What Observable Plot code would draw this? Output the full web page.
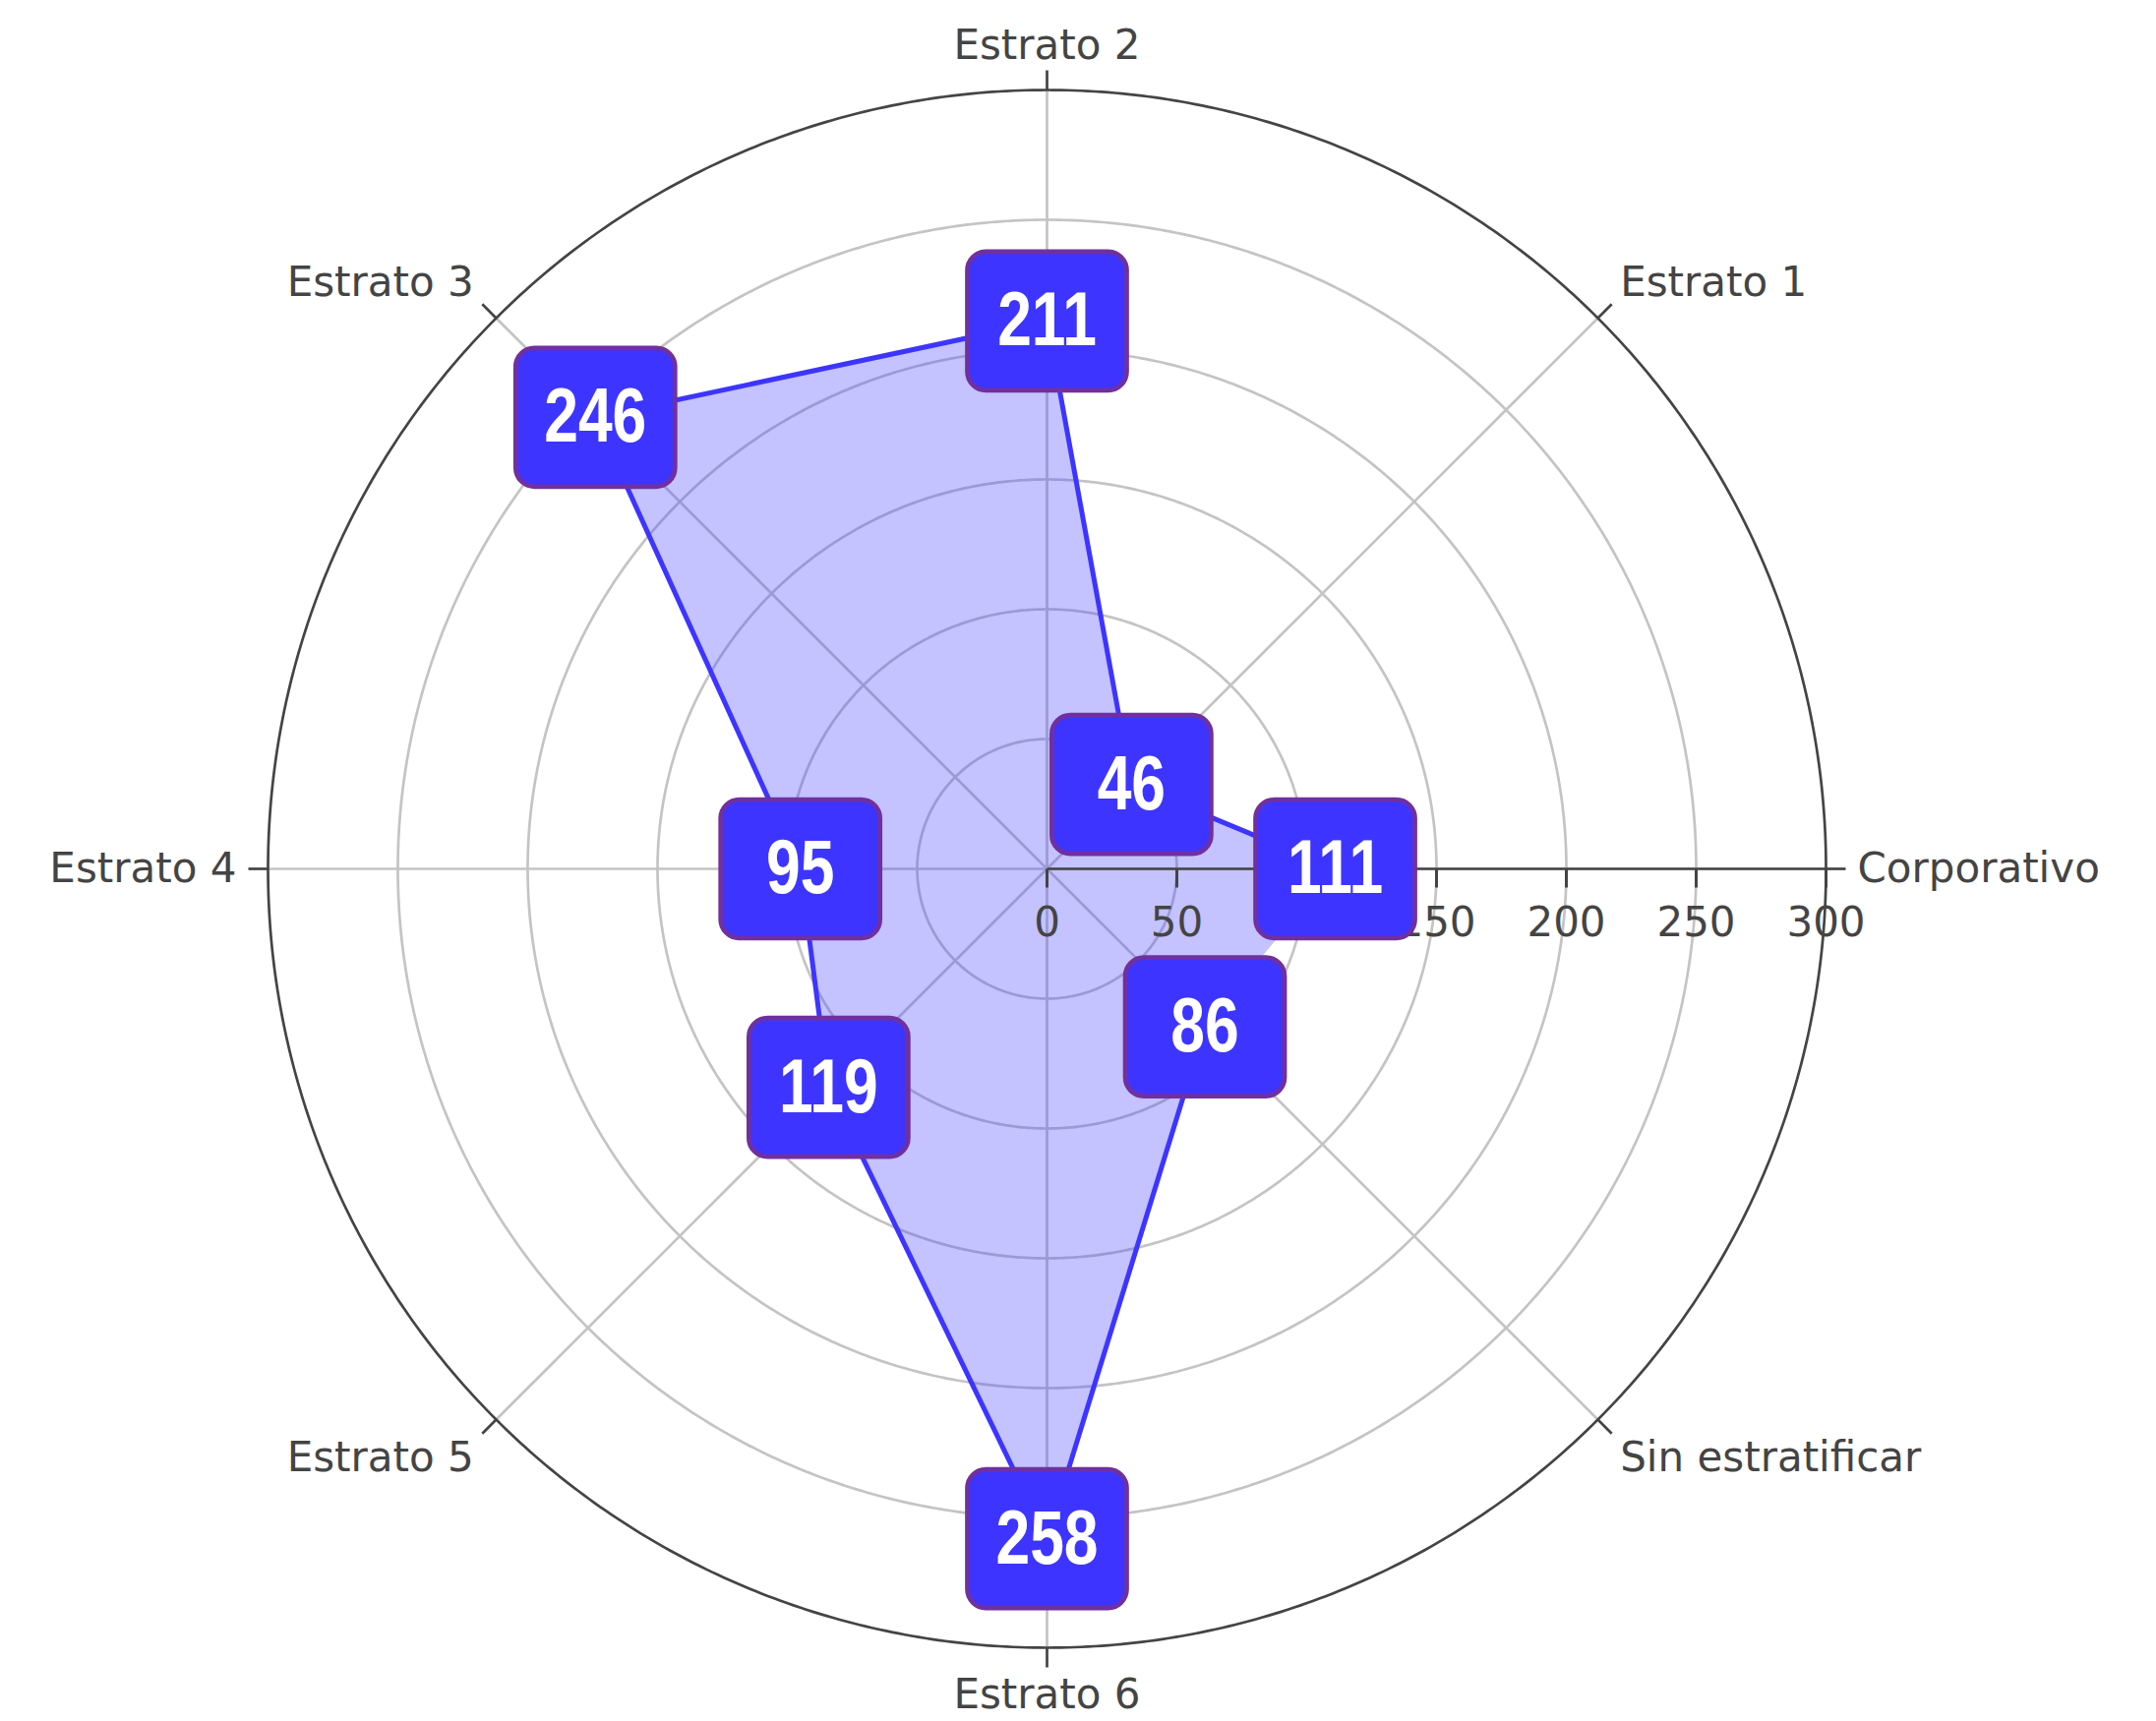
<!DOCTYPE html>
<html>
<head>
<meta charset="utf-8">
<script src="https://cdn.jsdelivr.net/npm/d3@7"></script>
<script src="https://cdn.jsdelivr.net/npm/@observablehq/plot@0.6"></script>
<style>
  html, body { margin: 0; padding: 0; background: #ffffff; overflow: hidden; }
  #chart svg { display: block; }
</style>
</head>
<body>
<div id="chart"></div>
<script>
// ---- data ----
const categories = ["Corporativo", "Estrato 1", "Estrato 2", "Estrato 3", "Estrato 4", "Estrato 5", "Estrato 6", "Sin estratificar"];
const values = [111, 46, 211, 246, 95, 119, 258, 86];
const radialTicks = [0, 50, 100, 150, 200, 250, 300];
const rMax = 300;

// ---- layout / style ----
const W = 2192, H = 1750;
const R = 792; // radius of the polar frame in px
const M = {left: 272, right: 336, top: 91, bottom: 75};
const gridColor = "#c4c4c4";
const axisColor = "#444444";
const lineBlue = "#3d35ff";
const boxBlue = "#3d35ff";
const boxBorder = "#7030a0";
const narrow = 0.8; // horizontal condensing of the value labels (Arial Narrow look)

// angle helpers: counter-clockwise starting at the right (Corporativo)
const lonOf = i => { const l = 90 + 45 * i; return (((l + 180) % 360) + 360) % 360 - 180; };
const latOf = v => 90 - 90 * v / rMax;
const pxVal = px => rMax * px / R;

const data = categories.map((c, i) => ({category: c, value: values[i], i, lon: lonOf(i), theta: 45 * i}));

// rounded box symbol for the value labels
const BW = 162, BH = 141, BR = 19;
const roundedBox = {
  draw(ctx) {
    const x0 = -BW / 2, x1 = BW / 2, y0 = -BH / 2, y1 = BH / 2;
    ctx.moveTo(x0 + BR, y0);
    ctx.lineTo(x1 - BR, y0);
    ctx.arcTo(x1, y0, x1, y0 + BR, BR);
    ctx.lineTo(x1, y1 - BR);
    ctx.arcTo(x1, y1, x1 - BR, y1, BR);
    ctx.lineTo(x0 + BR, y1);
    ctx.arcTo(x0, y1, x0, y1 - BR, BR);
    ctx.lineTo(x0, y0 + BR);
    ctx.arcTo(x0, y0, x0 + BR, y0, BR);
    ctx.closePath();
  }
};
// small downward tick symbol for the radial axis
const downTick = { draw(ctx) { ctx.moveTo(0, 0); ctx.lineTo(0, 19); } };

// anchors of the angular labels derived from their direction
const anchorOf = d => {
  const c = Math.cos(d.theta * Math.PI / 180), s = Math.sin(d.theta * Math.PI / 180);
  return {
    ta: c > 0.01 ? "start" : c < -0.01 ? "end" : "middle",
    la: s > 0.01 ? "bottom" : s < -0.01 ? "top" : "middle"
  };
};
const combos = Array.from(new Set(data.map(d => { const a = anchorOf(d); return a.ta + "|" + a.la; })));
const angularLabelMarks = combos.map(key => {
  const [ta, la] = key.split("|");
  return Plot.text(data.filter(d => { const a = anchorOf(d); return a.ta === ta && a.la === la; }), {
    x: "lon",
    y: () => latOf(rMax + pxVal(32)),
    text: "category",
    textAnchor: ta,
    lineAnchor: la,
    fontSize: 42,
    fontFamily: "'DejaVu Sans', Verdana, sans-serif",
    fill: axisColor
  });
});

const circle = r => d3.geoCircle().center([0, 90]).radius(90 * r / rMax).precision(0.5)();
const corp = data.filter(d => d.i === 0);

const chart = Plot.plot({
  width: W,
  height: H,
  marginLeft: M.left,
  marginRight: M.right,
  marginTop: M.top,
  marginBottom: M.bottom,
  projection: {
    type: "azimuthal-equidistant",
    rotate: [0, -90],
    domain: circle(rMax),
    clip: false
  },
  style: {background: "#ffffff"},
  marks: [
    // grid rings
    Plot.geo(radialTicks.filter(t => t > 0 && t < rMax), {
      geometry: t => circle(t), fill: "none", stroke: gridColor, strokeWidth: 2.7
    }),
    // spokes
    Plot.link(data, {
      x1: "lon", y1: () => 90, x2: "lon", y2: () => 0,
      stroke: gridColor, strokeWidth: 2.7
    }),
    // outer circle
    Plot.geo([rMax], {geometry: t => circle(t), fill: "none", stroke: axisColor, strokeWidth: 2.7}),
    // angular ticks
    Plot.link(data, {
      x1: "lon", y1: () => 0, x2: "lon", y2: () => latOf(rMax + pxVal(20)),
      stroke: axisColor, strokeWidth: 2.7
    }),
    // filled polygon
    Plot.area(data, {
      x1: "lon", y1: d => latOf(d.value), x2: "lon", y2: () => 90,
      curve: "linear-closed", fill: lineBlue, fillOpacity: 0.3
    }),
    // outline (open, not closed back to the first category)
    Plot.line(data, {
      x: "lon", y: d => latOf(d.value), curve: "linear",
      stroke: lineBlue, strokeWidth: 5, strokeLinejoin: "round"
    }),
    // radial axis line
    Plot.link(corp, {
      x1: "lon", y1: () => 90, x2: "lon", y2: () => 0,
      stroke: axisColor, strokeWidth: 2.7
    }),
    // radial ticks
    Plot.dot(radialTicks, {
      x: () => corp[0].lon, y: t => latOf(t), symbol: downTick,
      fill: "none", stroke: axisColor, strokeWidth: 3
    }),
    // radial tick labels
    Plot.text(radialTicks, {
      x: () => corp[0].lon, y: t => latOf(t), text: t => String(t),
      dy: 39, lineAnchor: "top", textAnchor: "middle",
      fontSize: 42, fontFamily: "'DejaVu Sans', Verdana, sans-serif", fill: axisColor
    }),
    // angular labels
    ...angularLabelMarks,
    // value boxes
    Plot.dot(data, {
      x: "lon", y: d => latOf(d.value), symbol: roundedBox,
      fill: boxBlue, stroke: boxBorder, strokeWidth: 4.7
    }),
    Plot.text(data, {
      x: "lon", y: d => latOf(d.value), text: d => String(d.value),
      fill: "#ffffff", fontSize: 78, fontWeight: "bold",
      fontFamily: "'Liberation Sans', Arial, sans-serif",
      textAnchor: "middle", lineAnchor: "middle"
    })
  ]
});

// condense the value-label digits horizontally around their anchor
{
  const groups = chart.querySelectorAll('g[aria-label="text"]');
  const g = groups[groups.length - 1];
  if (g) {
    for (const t of g.querySelectorAll("text")) {
      const tr = t.getAttribute("transform");
      if (tr) {
        t.setAttribute("transform", tr + ` scale(${narrow},1)`);
      } else {
        const x = parseFloat(t.getAttribute("x")) || 0;
        t.setAttribute("transform", `translate(${x},0) scale(${narrow},1) translate(${-x},0)`);
      }
    }
  }
}

document.getElementById("chart").appendChild(chart);
</script>
</body>
</html>
